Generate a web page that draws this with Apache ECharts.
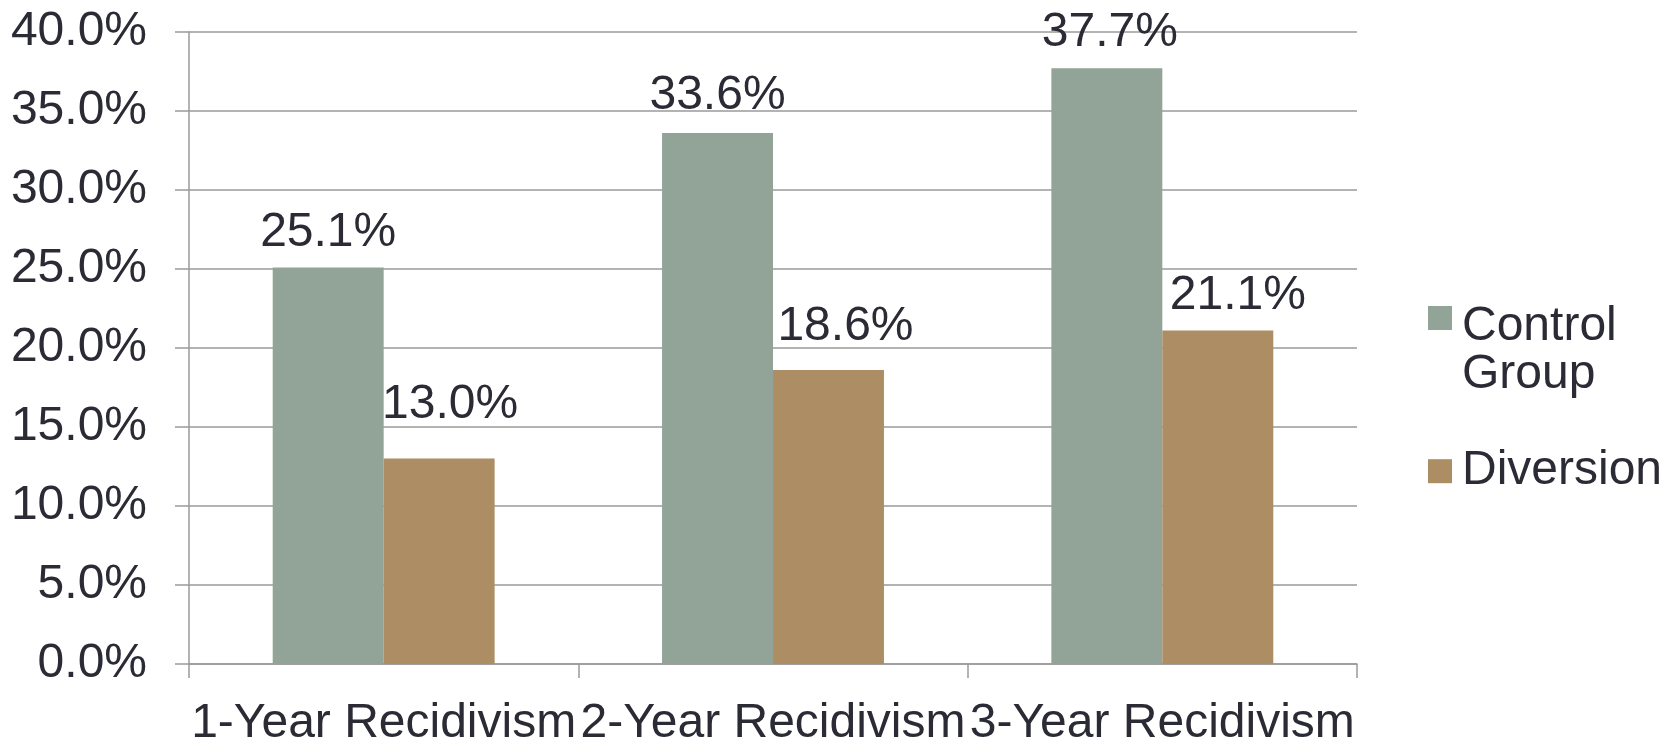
<!DOCTYPE html>
<html>
<head>
<meta charset="utf-8">
<script src="https://cdn.jsdelivr.net/npm/echarts@6/dist/echarts.min.js"></script>
<style>
html,body{margin:0;padding:0;background:#fff;}
#chart{width:1677px;height:748px;}
</style>
</head>
<body>
<div id="chart"></div>
<script>
var categories = ['1-Year Recidivism', '2-Year Recidivism', '3-Year Recidivism'];
var seriesNames = ['Control Group', 'Diversion'];
var controlValues = [25.1, 33.6, 37.7];
var diversionValues = [13.0, 18.6, 21.1];
var yTicks = [0, 5, 10, 15, 20, 25, 30, 35, 40];

// label nudges (style only): [dx, dy]
var controlNudge = [[0, 0], [0, -2], [3, -1]];
var diversionNudge = [[11, -19], [17, -8], [20, 0]];

var textColor = '#2b2b36';
var lineColor = '#9a9a9a';
var font = 'Liberation Sans, Arial, sans-serif';
var fs = 48;

function buildData(values, nudges) {
  return values.map(function (v, i) {
    return { value: v, label: { offset: nudges[i] } };
  });
}

var chart = echarts.init(document.getElementById('chart'));
chart.setOption({
  animation: false,
  backgroundColor: '#ffffff',
  textStyle: { fontFamily: font },
  grid: { left: 189, top: 32, width: 1168, height: 640, containLabel: false },
  legend: [
    {
      data: [seriesNames[0]],
      orient: 'vertical',
      left: 1428,
      top: 302.5,
      padding: 0,
      icon: 'rect',
      itemWidth: 24,
      itemHeight: 24,
      formatter: function (n) {
        var parts = n.split(' ');
        return '{a|' + parts[0] + '}\n{b|' + parts[1] + '}';
      },
      textStyle: {
        color: textColor, fontSize: fs, fontFamily: font,
        rich: {
          a: { color: textColor, fontSize: fs, fontFamily: font, lineHeight: 114, verticalAlign: 'bottom', padding: [0, 0, 0, 5] },
          b: { color: textColor, fontSize: fs, fontFamily: font, lineHeight: 49, padding: [0, 0, 0, 5] }
        }
      }
    },
    {
      data: [seriesNames[1]],
      orient: 'vertical',
      left: 1428,
      top: 447.2,
      padding: 0,
      icon: 'rect',
      itemWidth: 24,
      itemHeight: 24,
      formatter: function (n) { return '{t|' + n + '}'; },
      textStyle: {
        color: textColor, fontSize: fs, fontFamily: font,
        rich: {
          t: { color: textColor, fontSize: fs, fontFamily: font, lineHeight: 49, padding: [0, 0, 0, 5] }
        }
      }
    }
  ],
  xAxis: {
    type: 'category',
    data: categories,
    axisLine: { show: true, lineStyle: { color: lineColor, width: 1.5 } },
    axisTick: { show: true, length: 14, lineStyle: { color: lineColor, width: 1.5 } },
    axisLabel: { interval: 0, margin: 36, color: textColor, fontSize: fs, fontFamily: font },
    splitLine: { show: false }
  },
  yAxis: {
    type: 'value',
    min: yTicks[0],
    max: yTicks[yTicks.length - 1],
    interval: yTicks[1] - yTicks[0],
    axisLine: { show: true, lineStyle: { color: lineColor, width: 1.5 } },
    axisTick: { show: true, length: 14, lineStyle: { color: lineColor, width: 1.5 } },
    axisLabel: {
      margin: 42, color: textColor, fontSize: fs, fontFamily: font,
      formatter: function (v) { return v.toFixed(1) + '%'; }
    },
    splitLine: { show: true, lineStyle: { color: lineColor, width: 1.5 } }
  },
  series: [
    {
      name: seriesNames[0],
      type: 'bar',
      data: buildData(controlValues, controlNudge),
      barGap: '0%',
      barCategoryGap: '43%',
      itemStyle: { color: '#92a398' },
      label: {
        show: true, position: 'top', distance: 11,
        color: textColor, fontSize: fs, fontFamily: font,
        formatter: function (p) { return p.value.toFixed(1) + '%'; }
      }
    },
    {
      name: seriesNames[1],
      type: 'bar',
      data: buildData(diversionValues, diversionNudge),
      barGap: '0%',
      barCategoryGap: '43%',
      itemStyle: { color: '#ad8e64' },
      label: {
        show: true, position: 'top', distance: 11,
        color: textColor, fontSize: fs, fontFamily: font,
        formatter: function (p) { return p.value.toFixed(1) + '%'; }
      }
    }
  ]
});
</script>
</body>
</html>
